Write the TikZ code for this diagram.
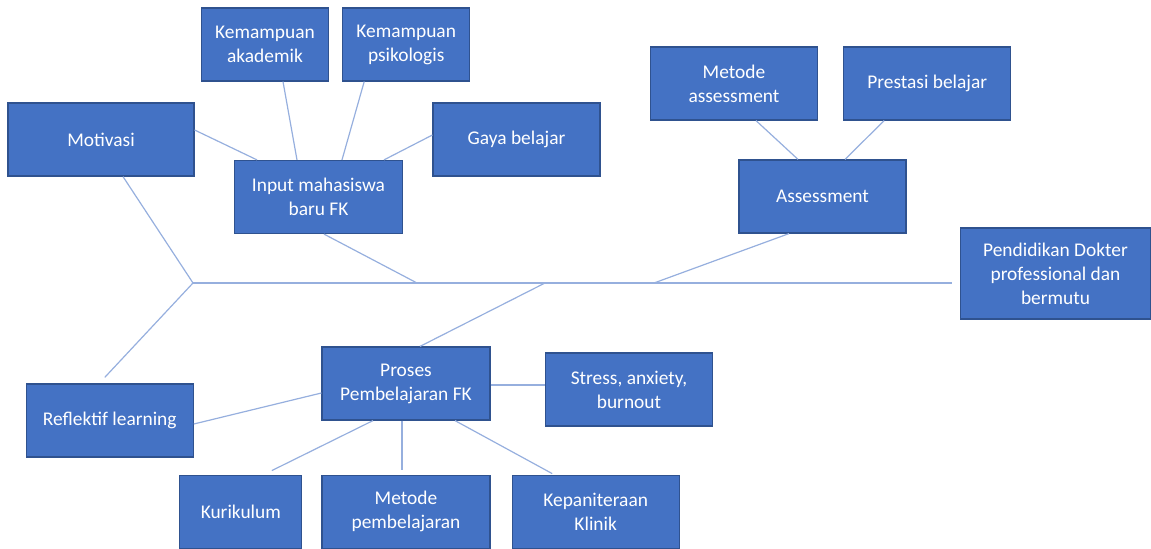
\documentclass[tikz,border=0pt]{standalone}
\usepackage{fontspec}
\setmainfont{Carlito}
\usetikzlibrary{positioning}
\definecolor{OfficeBlue}{RGB}{68,114,196}
\definecolor{OfficeEdge}{RGB}{47,82,143}
\definecolor{LinkBlue}{RGB}{150,175,222}

\begin{document}
\begin{tikzpicture}[x=0.5pt, y=-0.5pt,
            box/.style={draw=OfficeEdge, line width=0.6pt, rectangle, fill=OfficeBlue, text=white, align=center, minimum height=36.5pt, minimum width=83.5pt, inner sep=2pt, font=\fontsize{9.7}{12}\selectfont},
            link/.style={LinkBlue, line width=0.6pt}
        ]
            \useasboundingbox (0,0) rectangle (1151,549);

            \node (input) [box, minimum width=84pt] at (318.5,197) {Input mahasiswa\\baru FK};
            \node (akad) [box, minimum width=63.5pt] at (265,44.5) {Kemampuan\\akademik};
            \node (psiko) [box, minimum width=63.5pt, right=6.5pt of akad] {Kemampuan\\psikologis};
            \node (motiv) [box, minimum width=93pt] at (101,139.5) {Motivasi};
            \node (gaya) [box] at (516.5,139.5) {Gaya belajar};

            \node (metass) [box] at (734,83.5) {Metode\\assessment};
            \node (prest) [box, right=12.5pt of metass] {Prestasi belajar};
            \node (assess) [box] at (822.5,196.5) {Assessment};
            \node (goal) [box, minimum width=95pt, minimum height=45.5pt] at (1055.5,273.5) {Pendidikan Dokter\\professional dan\\bermutu};

            \node (proses) [box, minimum width=84pt] at (406,383.5) {Proses\\Pembelajaran FK};
            \node (reflek) [box] at (109.75,420.5) {Reflektif learning};
            \node (stress) [box] at (629,389.5) {Stress, anxiety,\\burnout};
            \node (metpem) [box, minimum width=84pt, below=27pt of proses] {Metode\\pembelajaran};
            \node (kuri) [box, minimum width=61pt, left=9.5pt of metpem] {Kurikulum};
            \node (kepan) [box, right=10.5pt of metpem] {Kepaniteraan\\Klinik};

            \coordinate (jL) at (193,283);
            \coordinate (jEnd) at (952,283);
            \coordinate (jInput) at (417,283);
            \coordinate (jProses) at (545,283);
            \coordinate (jAssess) at (654,283);

            \draw [link] (jL) -- (jEnd);
            \draw [link] ([xshift=11pt]motiv.south) -- (jL);
            \draw [link] (jL) -- ([xshift=-2.5pt,yshift=3pt]reflek.north);
            \draw [link] ([xshift=2.75pt]input.south) -- (jInput);
            \draw [link] ([xshift=-16.75pt]assess.south) -- (jAssess);
            \draw [link] ([xshift=7pt]proses.north) -- (jProses);

            \draw [link] ([yshift=4.75pt]motiv.east) -- ([xshift=-30.75pt]input.north);
            \draw [link] ([xshift=9pt]akad.south) -- ([xshift=-10.75pt]input.north);
            \draw [link] ([xshift=-21pt]psiko.south) -- ([xshift=11.75pt]input.north);
            \draw [link] ([yshift=2.25pt]gaya.west) -- ([xshift=32.75pt]input.north);

            \draw [link] ([xshift=11pt]metass.south) -- ([xshift=-12.25pt]assess.north);
            \draw [link] ([xshift=-21.5pt]prest.south) -- ([xshift=11.25pt]assess.north);

            \draw [link] ([yshift=-0.75pt]proses.east) -- ([yshift=2.25pt]stress.west);
            \draw [link] ([yshift=-4.75pt]proses.west) -- ([yshift=-1.75pt]reflek.east);
            \draw [link] ([xshift=-16.5pt]proses.south) -- ([xshift=15.5pt,yshift=2pt]kuri.north);
            \draw [link] ([xshift=-2pt]proses.south) -- ([xshift=-2pt,yshift=2.5pt]metpem.north);
            \draw [link] ([xshift=24.5pt]proses.south) -- ([xshift=-21.75pt,yshift=0.5pt]kepan.north);
        \end{tikzpicture}
\end{document}
